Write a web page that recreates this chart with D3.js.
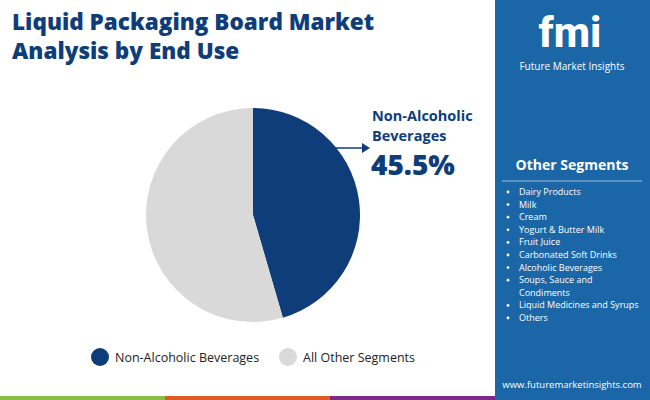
<!DOCTYPE html>
<html><head><meta charset="utf-8">
<script src="https://cdn.jsdelivr.net/npm/d3@7"></script>
<style>body{margin:0;font-family:"Open Sans",sans-serif}</style>
</head><body>
<svg id="c" width="650" height="400"></svg>
<script>
var segments = ["Non-Alcoholic Beverages", "All Other Segments"];
var shares = [45.5, 54.5];
var colours = ["#0e3d7a", "#d9d9d9"];
var others = ["Dairy Products", "Milk", "Cream", "Yogurt & Butter Milk", "Fruit Juice",
  "Carbonated Soft Drinks", "Alcoholic Beverages", "Soups, Sauce and|Condiments",
  "Liquid Medicines and Syrups", "Others"];

var svg = d3.select("#c");
svg.append("rect").attr("width", 650).attr("height", 400).attr("fill", "#fff");

// title
var t = svg.append("text").attr("x", 12).attr("fill", "#0e3d7a")
  .style("font-size", "22.5px").style("font-weight", 800);
t.append("tspan").attr("x", 12).attr("y", 30).text("Liquid Packaging Board Market");
t.append("tspan").attr("x", 12).attr("y", 59).text("Analysis by End Use");

// pie
var pie = d3.pie().sort(null).value(d => d);
var arc = d3.arc().innerRadius(0).outerRadius(107);
var g = svg.append("g").attr("transform", "translate(253,215)");
g.selectAll("path").data(pie(shares)).join("path")
  .attr("d", arc).attr("fill", (d, i) => colours[i]);

// callout
svg.append("line").attr("x1", 335).attr("y1", 148).attr("x2", 362).attr("y2", 148)
  .attr("stroke", "#0e3d7a").attr("stroke-width", 1.5);
svg.append("path").attr("d", "M362,143 L370,148 L362,153 Z").attr("fill", "#0e3d7a");
svg.append("text").attr("x", 372).attr("y", 121).attr("fill", "#0e3d7a")
  .style("font-size", "14.5px").style("font-weight", 700).text("Non-Alcoholic");
svg.append("text").attr("x", 372).attr("y", 141).attr("fill", "#0e3d7a")
  .style("font-size", "14.5px").style("font-weight", 700).text("Beverages");
svg.append("text").attr("x", 371).attr("y", 175).attr("fill", "#0e3d7a")
  .style("font-size", "28px").style("font-weight", 800).text(shares[0] + "%");

// legend
var lx = [100, 288];
segments.forEach(function (s, i) {
  svg.append("circle").attr("cx", lx[i]).attr("cy", 357).attr("r", 9).attr("fill", colours[i]);
  svg.append("text").attr("x", lx[i] + 15).attr("y", 362).attr("fill", "#222")
    .style("font-size", "12.5px").text(s);
});

// bottom stripe
["#8cbd45", "#e05a25", "#7c2a86"].forEach(function (c, i) {
  svg.append("rect").attr("x", i * 165).attr("y", 396).attr("width", 165).attr("height", 4).attr("fill", c);
});

// right panel
svg.append("rect").attr("x", 495).attr("y", 0).attr("width", 155).attr("height", 400).attr("fill", "#1a66a6");
svg.append("text").attr("x", 570).attr("y", 47).attr("text-anchor", "middle").attr("fill", "#fff")
  .style("font-size", "42px").style("font-weight", 800).style("font-family", "Roboto").text("fmi");
svg.append("text").attr("x", 572).attr("y", 70).attr("text-anchor", "middle").attr("fill", "#fff")
  .style("font-size", "10px").text("Future Market Insights");
svg.append("text").attr("x", 572).attr("y", 170).attr("text-anchor", "middle").attr("fill", "#fff")
  .style("font-size", "14px").style("font-weight", 700).text("Other Segments");
svg.append("line").attr("x1", 502).attr("x2", 642).attr("y1", 181).attr("y2", 181)
  .attr("stroke", "#9cc0e0").attr("stroke-width", 1.2);
var y = 195;
others.forEach(function (o) {
  var parts = o.split("|");
  svg.append("circle").attr("cx", 508).attr("cy", y - 3).attr("r", 1.4).attr("fill", "#fff");
  parts.forEach(function (p) {
    svg.append("text").attr("x", 519).attr("y", y).attr("fill", "#fff")
      .style("font-size", "9px").text(p);
    y += 12.6;
  });
});
svg.append("text").attr("x", 572).attr("y", 388).attr("text-anchor", "middle").attr("fill", "#fff")
  .style("font-size", "9.5px").text("www.futuremarketinsights.com");
</script>
</body></html>
